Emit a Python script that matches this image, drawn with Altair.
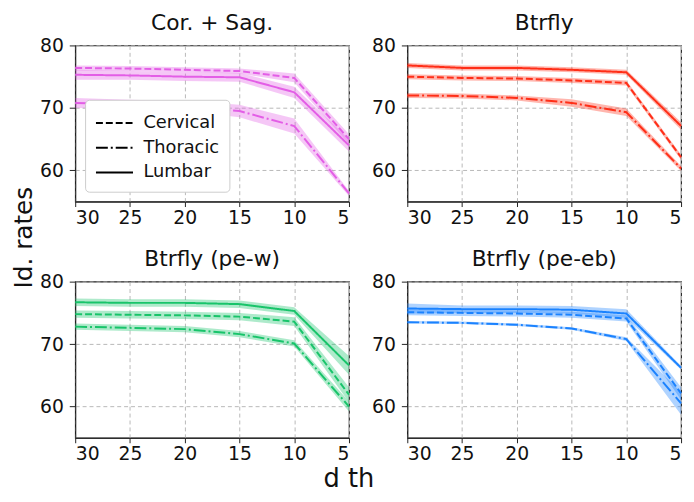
import altair as alt
import pandas as pd

depths = [30, 25, 20, 15, 10, 5]
regions = ["Cervical", "Thoracic", "Lumbar"]
methods = ["Cor. + Sag.", "Btrfly", "Btrfly (pe-w)", "Btrfly (pe-eb)"]
colors = ["#e35ee6", "#ff2e17", "#18c46a", "#1a82ff"]

# mean identification rates per method / region, at depths 30..5
cs_cerv = [76.4, 76.3, 76.1, 75.9, 74.8, 65.0]
cs_thor = [70.8, 70.6, 70.3, 69.5, 67.1, 56.3]
cs_lumb = [75.3, 75.2, 75.0, 74.9, 72.5, 64.0]
bt_cerv = [75.0, 74.8, 74.7, 74.4, 74.0, 62.1]
bt_thor = [72.0, 71.9, 71.6, 70.8, 69.3, 60.3]
bt_lumb = [76.8, 76.4, 76.4, 76.1, 75.7, 67.1]
pw_cerv = [74.8, 74.7, 74.6, 74.4, 73.6, 61.9]
pw_thor = [72.8, 72.6, 72.4, 71.6, 70.1, 60.0]
pw_lumb = [76.7, 76.6, 76.6, 76.4, 75.3, 66.6]
pe_cerv = [75.1, 75.0, 74.9, 74.7, 74.1, 62.1]
pe_thor = [73.5, 73.4, 73.1, 72.5, 70.8, 60.5]
pe_lumb = [75.7, 75.6, 75.6, 75.5, 74.9, 66.2]

# half-widths of the shaded bands
cs_cerv_e = [0.4, 0.4, 0.4, 0.4, 0.7, 0.8]
cs_thor_e = [0.8, 0.7, 0.8, 1.0, 1.2, 0.4]
cs_lumb_e = [0.8, 0.7, 0.7, 0.7, 0.9, 1.0]
bt_cerv_e = [0.4, 0.4, 0.4, 0.4, 0.4, 0.4]
bt_thor_e = [0.4, 0.4, 0.4, 0.6, 0.6, 0.4]
bt_lumb_e = [0.4, 0.4, 0.4, 0.4, 0.4, 0.6]
pw_cerv_e = [0.6, 0.6, 0.6, 0.6, 0.7, 1.2]
pw_thor_e = [0.5, 0.5, 0.5, 0.5, 0.5, 0.8]
pw_lumb_e = [0.6, 0.6, 0.6, 0.6, 0.6, 1.5]
pe_cerv_e = [0.5, 0.5, 0.5, 0.5, 0.5, 1.0]
pe_thor_e = [0.2, 0.2, 0.2, 0.2, 0.3, 1.8]
pe_lumb_e = [0.8, 0.6, 0.6, 0.6, 0.7, 0.3]

series = {
    "Cor. + Sag.": [(cs_cerv, cs_cerv_e), (cs_thor, cs_thor_e), (cs_lumb, cs_lumb_e)],
    "Btrfly": [(bt_cerv, bt_cerv_e), (bt_thor, bt_thor_e), (bt_lumb, bt_lumb_e)],
    "Btrfly (pe-w)": [(pw_cerv, pw_cerv_e), (pw_thor, pw_thor_e), (pw_lumb, pw_lumb_e)],
    "Btrfly (pe-eb)": [(pe_cerv, pe_cerv_e), (pe_thor, pe_thor_e), (pe_lumb, pe_lumb_e)],
}

FONT = "DejaVu Sans"
dashes = [[7, 3], [12, 3, 2, 3], [1, 0]]


def make_df(method):
    rows = []
    for reg, (m, e) in zip(regions, series[method]):
        for d, v, h in zip(depths, m, e):
            rows.append({"depth": d, "region": reg, "mean": v, "lo": v - h, "hi": v + h})
    return pd.DataFrame(rows)


def panel(method, color, legend):
    df = make_df(method)
    x = alt.X("depth:Q", scale=alt.Scale(domain=[5, 30], reverse=True, nice=False),
              axis=alt.Axis(values=depths, title=None, grid=True, gridDash=[4, 3],
                            gridColor="#b8b8b8", labelFontSize=19, labelFont=FONT,
                            tickSize=5, labelPadding=2, labelColor="#111",
                            domainColor="#222", tickColor="#222"))
    yax = alt.Axis(values=[60, 70, 80], title=None, grid=True, gridDash=[4, 3],
                   gridColor="#b8b8b8", labelFontSize=19, labelFont=FONT,
                   tickSize=6, labelPadding=6, labelColor="#111",
                   domainColor="#222", tickColor="#222")
    base = alt.Chart(df)
    band = base.mark_area(color=color, opacity=0.35).encode(
        x=x,
        y=alt.Y("lo:Q", scale=alt.Scale(domain=[55, 80], nice=False), axis=yax),
        y2="hi:Q",
        detail="region:N",
    )
    if legend:
        lg = alt.Legend(title=None, orient="bottom-left", symbolType="M-1,0H2",
                        symbolStrokeColor="black", symbolStrokeWidth=2,
                        symbolSize=625, labelFontSize=18, labelFont=FONT,
                        labelColor="#111", fillColor="white", strokeColor="#cccccc",
                        padding=10, cornerRadius=4, rowPadding=2, offset=10,
                        labelOffset=22)
    else:
        lg = None
    line = base.mark_line(color=color, strokeWidth=2).encode(
        x=x,
        y=alt.Y("mean:Q"),
        strokeDash=alt.StrokeDash("region:N", scale=alt.Scale(domain=regions, range=dashes),
                                  legend=lg),
    )
    return alt.layer(band, line).properties(
        width=277, height=158,
        title=alt.TitleParams(method, fontSize=22, font=FONT, fontWeight="normal",
                              color="#111", offset=2),
    )


p = [panel(m, c, i == 0) for i, (m, c) in enumerate(zip(methods, colors))]

row1 = alt.hconcat(p[0], p[1], spacing=17).resolve_scale(strokeDash="independent").resolve_legend(strokeDash="independent")
row2 = alt.hconcat(p[2], p[3], spacing=17).resolve_scale(strokeDash="independent").resolve_legend(strokeDash="independent")
grid = alt.vconcat(row1, row2, spacing=19,
                   title=alt.TitleParams("Id. rates", orient="left", anchor="middle",
                                         fontSize=25, font=FONT, fontWeight="normal",
                                         color="#111", offset=2)
                   ).resolve_scale(strokeDash="independent").resolve_legend(strokeDash="independent")

chart = alt.hconcat(grid, title=alt.TitleParams("d th", orient="bottom", anchor="middle",
                                                fontSize=26, font=FONT, fontWeight="normal",
                                                color="#111", offset=2)
                    ).resolve_scale(strokeDash="independent").resolve_legend(strokeDash="independent").properties(
    padding={"left": 4, "top": 0, "right": 0, "bottom": 0}
).configure_view(stroke="#222", strokeWidth=1.2)

chart.save("out.html", embed_options={"renderer": "svg", "actions": False})
